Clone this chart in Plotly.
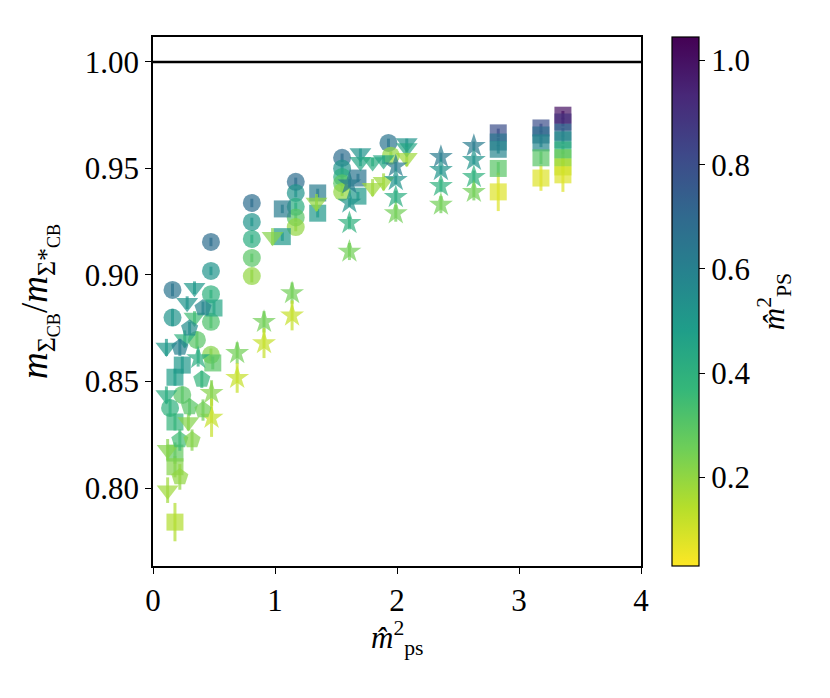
import plotly.graph_objects as go
import plotly.express as px
from plotly.colors import sample_colorscale, unlabel_rgb

# ---- data: (m_ps^2, ratio, error, m_PS^2) per ensemble marker ----
circ_x = [0.16, 0.16, 0.14, 0.24, 0.36,
          0.475, 0.475, 0.475, 0.475, 0.475,
          0.81, 0.81, 0.81, 0.81, 0.81,
          1.17, 1.17, 1.17, 1.17, 1.17,
          1.55, 1.55, 1.55, 1.55, 1.55,
          1.93, 1.95]
circ_y = [0.893, 0.880, 0.8376, 0.8437, 0.8695,
          0.9155, 0.9019, 0.891, 0.878, 0.8625,
          0.9338, 0.9249, 0.9169, 0.908, 0.8995,
          0.9437, 0.9385, 0.932, 0.927, 0.9225,
          0.955, 0.950, 0.946, 0.943, 0.939,
          0.962, 0.956]
circ_e = [0.003, 0.004, 0.004, 0.004, 0.004,
          0.002, 0.002, 0.002, 0.003, 0.003,
          0.002, 0.002, 0.002, 0.002, 0.003,
          0.002, 0.002, 0.002, 0.002, 0.002,
          0.002, 0.002, 0.002, 0.002, 0.002,
          0.002, 0.002]
circ_c = [0.65, 0.52, 0.40, 0.30, 0.30,
          0.68, 0.52, 0.40, 0.32, 0.22,
          0.68, 0.52, 0.42, 0.30, 0.20,
          0.68, 0.52, 0.42, 0.30, 0.20,
          0.68, 0.52, 0.42, 0.30, 0.20,
          0.65, 0.20]

sq_x = [0.18, 0.24, 0.18, 0.18, 0.18, 0.18, 0.50, 0.49,
        1.06, 1.06, 1.35, 1.35, 1.68, 1.68,
        2.83, 2.83, 2.83, 2.83, 2.83,
        3.18, 3.18, 3.18, 3.18, 3.18,
        3.36, 3.36, 3.36, 3.36, 3.36, 3.36, 3.36, 3.36]
sq_y = [0.852, 0.8577, 0.831, 0.8164, 0.810, 0.784, 0.8845, 0.8587,
        0.931, 0.918, 0.9385, 0.929, 0.9455, 0.937,
        0.9667, 0.9624, 0.959, 0.950, 0.939,
        0.969, 0.9657, 0.962, 0.955, 0.9455,
        0.975, 0.9718, 0.967, 0.9634, 0.9587, 0.955, 0.9507, 0.947]
sq_e = [0.004, 0.004, 0.004, 0.005, 0.005, 0.009, 0.003, 0.003,
        0.002, 0.002, 0.002, 0.002, 0.002, 0.002,
        0.002, 0.002, 0.002, 0.003, 0.009,
        0.002, 0.002, 0.002, 0.003, 0.006,
        0.002, 0.002, 0.002, 0.002, 0.002, 0.003, 0.003, 0.008]
sq_c = [0.48, 0.50, 0.38, 0.28, 0.22, 0.15, 0.45, 0.30,
        0.62, 0.50, 0.62, 0.50, 0.65, 0.50,
        0.80, 0.65, 0.58, 0.30, 0.08,
        0.80, 0.68, 0.58, 0.30, 0.08,
        1.00, 0.90, 0.70, 0.55, 0.40, 0.25, 0.15, 0.08]

tri_x = [0.34, 0.28, 0.34, 0.26, 0.11, 0.11, 0.29, 0.12, 0.12,
         0.98, 1.34, 1.70, 1.70, 1.80, 1.80, 1.89, 1.89,
         2.08, 2.08, 2.08]
tri_y = [0.894, 0.887, 0.880, 0.870, 0.866, 0.8437, 0.831, 0.818, 0.799,
         0.918, 0.934, 0.9573, 0.9531, 0.953, 0.941, 0.954, 0.9437,
         0.962, 0.9596, 0.955]
tri_e = [0.003, 0.003, 0.003, 0.004, 0.004, 0.004, 0.004, 0.005, 0.006,
         0.004, 0.004, 0.002, 0.002, 0.002, 0.004, 0.002, 0.004,
         0.002, 0.002, 0.004]
tri_c = [0.50, 0.52, 0.35, 0.40, 0.50, 0.42, 0.22, 0.22, 0.18,
         0.22, 0.20, 0.52, 0.45, 0.42, 0.18, 0.45, 0.18,
         0.52, 0.45, 0.18]

star_x = [0.37, 0.48, 0.48, 0.69, 0.69, 0.91, 0.91, 1.14, 1.14,
          1.61, 1.61, 1.61, 1.61, 1.99, 1.99, 1.99, 1.99,
          2.36, 2.36, 2.36, 2.36, 2.63, 2.63, 2.63, 2.63]
star_y = [0.861, 0.8446, 0.833, 0.8634, 0.8517, 0.878, 0.868, 0.8915, 0.881,
          0.943, 0.934, 0.9244, 0.911, 0.951, 0.9446, 0.9366, 0.929,
          0.9554, 0.9493, 0.9418, 0.933, 0.9606, 0.954, 0.946, 0.939]
star_e = [0.004, 0.006, 0.009, 0.005, 0.007, 0.005, 0.007, 0.005, 0.007,
          0.002, 0.002, 0.003, 0.004, 0.002, 0.002, 0.003, 0.004,
          0.002, 0.002, 0.003, 0.004, 0.002, 0.002, 0.003, 0.004]
star_c = [0.42, 0.22, 0.12, 0.25, 0.12, 0.25, 0.12, 0.25, 0.12,
          0.62, 0.52, 0.40, 0.25, 0.62, 0.52, 0.42, 0.25,
          0.62, 0.52, 0.40, 0.25, 0.62, 0.52, 0.40, 0.25]

pent_x = [0.41, 0.30, 0.22, 0.40, 0.30, 0.41, 0.22, 0.32, 0.22]
pent_y = [0.8845, 0.875, 0.866, 0.851, 0.838, 0.8366, 0.8225, 0.8225, 0.8052]
pent_e = [0.003, 0.003, 0.004, 0.004, 0.004, 0.005, 0.005, 0.005, 0.006]
pent_c = [0.58, 0.55, 0.60, 0.38, 0.30, 0.25, 0.35, 0.22, 0.20]

CMIN, CMAX = 0.03, 1.045
ALPHA = 0.7
FONT = "Liberation Serif"

groups = [
    ("circle", 18, circ_x, circ_y, circ_e, circ_c),
    ("square", 17, sq_x, sq_y, sq_e, sq_c),
    ("triangle-down", 19, tri_x, tri_y, tri_e, tri_c),
    ("star", 18, star_x, star_y, star_e, star_c),
    ("pentagon", 18, pent_x, pent_y, pent_e, pent_c),
]


def rgba(c):
    t = min(max((c - CMIN) / (CMAX - CMIN), 0), 1)
    r, g, b = unlabel_rgb(sample_colorscale(px.colors.sequential.Viridis_r, [t])[0])
    return f"rgba({int(r)},{int(g)},{int(b)},{ALPHA})"


fig = go.Figure()

fig.add_hline(y=1.0, line_color="black", line_width=2.5)

for symbol, size, xs, ys, es, cs in groups:
    # error bars one by one so each gets its own colour
    for x, y, e, c in zip(xs, ys, es, cs):
        fig.add_trace(go.Scatter(
            x=[x], y=[y], mode="markers",
            marker=dict(size=1, color="rgba(0,0,0,0)"),
            error_y=dict(type="data", array=[e], color=rgba(c),
                         thickness=3, width=0),
            showlegend=False, hoverinfo="skip",
        ))
    fig.add_trace(go.Scatter(
        x=xs, y=ys, mode="markers",
        marker=dict(symbol=symbol, size=size, color=cs,
                    coloraxis="coloraxis", opacity=ALPHA,
                    line=dict(width=0)),
        showlegend=False,
    ))

# x title as annotation so it can sit a little closer to the ticks
fig.add_annotation(
    x=0.5, y=-0.136, xref="paper", yref="paper",
    xanchor="center", yanchor="middle", showarrow=False,
    text="<i>m̂</i><sup>2</sup><sub>ps</sub>",
    font=dict(family=FONT, size=31),
)

fig.update_layout(
    width=830, height=698,
    margin=dict(l=145, r=197, t=29, b=140),
    plot_bgcolor="white", paper_bgcolor="white",
    font=dict(family=FONT, size=31, color="black"),
    coloraxis=dict(
        colorscale="Viridis", reversescale=True, cmin=CMIN, cmax=CMAX,
        colorbar=dict(
            x=1.0635, xanchor="left", y=0.5, yanchor="middle",
            xpad=0, ypad=0,
            len=1.0, thickness=27, outlinewidth=1.2, outlinecolor="black",
            ticks="outside", ticklen=6, tickcolor="black",
            tickvals=[0.2, 0.4, 0.6, 0.8, 1.0], ticktext=["0.2", "0.4", "0.6", "0.8", "1.0"],
            tickfont=dict(family=FONT, size=31),
            title=dict(text="<i>m̂</i><sup>2</sup><sub>PS</sub>", side="right",
                       font=dict(family=FONT, size=31)),
        ),
    ),
    xaxis=dict(
        range=[0, 4], tickvals=[0, 1, 2, 3, 4],
        showline=True, linecolor="black", linewidth=1.5, mirror=True,
        ticks="outside", ticklen=6, tickcolor="black", showgrid=False, zeroline=False,
    ),
    yaxis=dict(
        range=[0.7634, 1.0117], tickvals=[0.80, 0.85, 0.90, 0.95, 1.00],
        tickformat=".2f",
        showline=True, linecolor="black", linewidth=1.5, mirror=True,
        ticks="outside", ticklen=6, tickcolor="black", showgrid=False, zeroline=False,
        title=dict(text="<i>m</i><sub>Σ<sub>CB</sub></sub>/<i>m</i><sub>Σ*<sub>CB</sub></sub>",
                   standoff=26),
    ),
)

fig.write_html("out.html")
